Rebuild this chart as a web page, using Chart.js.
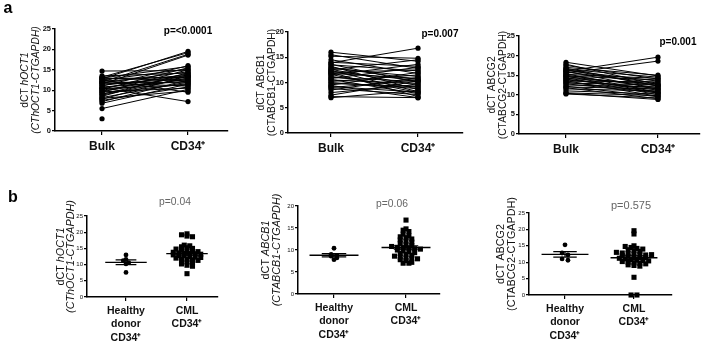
<!DOCTYPE html>
<html><head><meta charset="utf-8">
<script src="https://cdn.jsdelivr.net/npm/chart.js@4"></script>
<style>
html,body{margin:0;padding:0;background:#fff;}
#wrap{position:relative;width:707px;height:341px;overflow:hidden;background:#fff;}
canvas{position:absolute;}
</style></head><body><div id="wrap">
<canvas id="a1"></canvas><canvas id="a2"></canvas><canvas id="a3"></canvas>
<canvas id="b1"></canvas><canvas id="b2"></canvas><canvas id="b3"></canvas>
</div>
<script>
// ---------- DATA ----------
const pairCategories = ['Bulk', 'CD34⁺'];
const groupCategories = [['Healthy', 'donor', 'CD34⁺'], ['CML', 'CD34⁺']];

// panel a: paired Bulk vs CD34+ (dCT values)
const oct1Bulk = [12.8, 13.2, 12.0, 11.5, 11.0, 13.0, 10.2, 12.5, 9.5, 14.7, 11.8, 8.5, 13.5, 10.5, 9.0, 12.2, 7.8, 11.2, 10.0, 12.8, 8.8, 11.5, 9.8, 7.2, 13.0, 10.8, 8.2, 12.0, 9.2, 6.8, 10.4, 11.8, 7.5, 9.6, 5.5, 8.0, 12.5, 10.6, 3.0];
const oct1CD34 = [19.5, 19.2, 18.8, 18.6, 16.0, 15.8, 15.5, 15.2, 15.0, 14.8, 14.5, 14.3, 14.2, 14.0, 13.8, 13.6, 13.5, 13.4, 13.3, 13.2, 13.0, 12.8, 12.7, 12.5, 12.3, 12.2, 12.0, 11.8, 11.6, 11.5, 11.3, 11.0, 10.8, 10.5, 10.2, 9.8, 9.5, 7.2, null];
const abcb1Bulk = [13.9, 15.2, 12.5, 16.0, 11.5, 14.0, 10.8, 15.5, 12.0, 13.5, 9.5, 14.5, 10.2, 12.8, 8.5, 11.8, 13.0, 9.0, 12.2, 7.5, 11.0, 13.6, 10.5, 8.0, 12.6, 9.8, 11.2, 10.0, 13.2, 7.0, 12.4, 9.2, 11.6, 10.6, 8.8, 12.0, 9.4, 7.2];
const abcb1CD34 = [16.8, 14.8, 14.5, 14.2, 13.6, 13.2, 13.0, 12.8, 12.5, 12.3, 12.0, 11.8, 11.5, 11.2, 11.0, 10.8, 10.6, 10.5, 10.4, 10.3, 10.2, 10.0, 9.8, 9.6, 9.4, 9.2, 9.0, 8.8, 8.6, 8.4, 8.2, 8.1, 8.0, 7.8, 7.6, 7.2, 7.0, 7.0];
const abcg2Bulk = [16.0, 15.5, 17.0, 18.3, 16.5, 15.2, 17.5, 14.8, 16.2, 13.5, 15.8, 14.2, 17.8, 13.0, 14.6, 16.8, 12.5, 15.0, 13.8, 12.0, 16.0, 14.0, 11.5, 13.2, 15.4, 12.8, 11.0, 14.4, 10.5, 13.6, 12.2, 10.2, 11.8, 10.4, 14.8, 16.4];
const abcg2CD34 = [19.6, 18.6, 15.0, 14.8, 14.5, 14.2, 14.0, 13.8, 13.5, 13.3, 13.0, 12.8, 12.6, 12.5, 12.4, 12.2, 12.0, 11.8, 11.6, 11.5, 11.4, 11.2, 11.0, 10.8, 10.6, 10.5, 10.2, 10.0, 9.8, 9.6, 9.5, 9.2, 9.0, 8.8, 10.4, 12.3];

// panel b: healthy donor CD34+ vs CML CD34+
const oct1Healthy = [13.0, 11.6, 11.2, 10.6, 10.2, 7.6];
const oct1CML = [19.5, 19.2, 18.8, 18.6, 16.0, 15.8, 15.5, 15.2, 15.0, 14.8, 14.5, 14.3, 14.2, 14.0, 13.8, 13.6, 13.5, 13.4, 13.3, 13.2, 13.0, 12.8, 12.7, 12.5, 12.3, 12.2, 12.0, 11.8, 11.6, 11.5, 11.3, 11.0, 10.8, 10.5, 10.2, 9.8, 9.5, 7.2];
const abcb1Healthy = [10.4, 9.0, 8.8, 8.6, 8.2, 7.8];
const abcb1CML = [16.8, 14.8, 14.5, 14.2, 13.6, 13.2, 13.0, 12.8, 12.5, 12.3, 12.0, 11.8, 11.5, 11.2, 11.0, 10.8, 10.6, 10.5, 10.4, 10.3, 10.2, 10.0, 9.8, 9.6, 9.4, 9.2, 9.0, 8.8, 8.6, 8.4, 8.2, 8.1, 8.0, 7.8, 7.6, 7.2, 7.0, 7.0];
const abcg2Healthy = [15.3, 12.8, 12.2, 11.0, 10.6];
const abcg2CML = [19.6, 18.6, 15.0, 14.8, 14.5, 14.2, 14.0, 13.8, 13.5, 13.3, 13.0, 12.8, 12.6, 12.5, 12.4, 12.2, 12.0, 11.8, 11.6, 11.5, 11.4, 11.2, 11.0, 10.8, 10.6, 10.5, 10.2, 10.0, 9.8, 9.6, 9.5, 9.2, 9.0, 8.8, 10.4, 12.3, 5.4, 0, 0];

const yMaxA = [25, 20, 25];
const yMaxB = [25, 20, 25];
const pA = ['p=<0.0001', 'p=0.007', 'p=0.001'];
const pB = ['p=0.04', 'p=0.06', 'p=0.575'];

// ---------- HELPERS ----------
const INK = '#111';
function pairDatasets(bulk, cd34) {
  return bulk.map((b, i) => ({
    data: [{x: 0, y: b}, {x: 1, y: cd34[i]}],
    showLine: true, borderColor: '#000', borderWidth: 1,
    backgroundColor: '#000', pointRadius: 2.6, pointBorderWidth: 0, clip: false
  }));
}
function jitter(values, center, binW, step) {
  const bins = {};
  values.forEach(v => { const k = Math.round(v / binW); (bins[k] = bins[k] || []).push(v); });
  const pts = [];
  Object.values(bins).forEach(arr => arr.forEach((v, j) => pts.push({x: center + (j - (arr.length - 1) / 2) * step, y: v})));
  return pts;
}
function stats(values) {
  const n = values.length, m = values.reduce((a, b) => a + b, 0) / n;
  const sd = Math.sqrt(values.reduce((a, b) => a + (b - m) * (b - m), 0) / (n - 1));
  return {m, sem: sd / Math.sqrt(n)};
}
function groupDatasets(healthy, cml, binW, step) {
  const out = [];
  [healthy, cml].forEach((vals, c) => {
    const {m, sem} = stats(vals);
    out.push({data: [{x: c - 0.34, y: m}, {x: c + 0.34, y: m}], showLine: true, borderColor: '#000', borderWidth: 1.4, pointRadius: 0, clip: false});
    out.push({data: [{x: c - 0.17, y: m + sem}, {x: c + 0.17, y: m + sem}, {x: c, y: null}, {x: c, y: m + sem}, {x: c, y: m - sem}, {x: c, y: null}, {x: c - 0.17, y: m - sem}, {x: c + 0.17, y: m - sem}],
      showLine: true, spanGaps: false, borderColor: '#000', borderWidth: 1.2, pointRadius: 0, clip: false});
    out.push({data: jitter(vals, c, binW, step), showLine: false, backgroundColor: '#000', borderWidth: 0,
      pointStyle: c === 0 ? 'circle' : 'rect', pointRadius: c === 0 ? 2.4 : 3.6, clip: false});
  });
  return out;
}

function buildChart(cfg) {
  const {id, box, area, xRange, yMax, datasets, xLabels, xFont, xPad, yFont, title, titleX, titleFont, pText, letter} = cfg;
  const cv = document.getElementById(id);
  cv.width = box.w; cv.height = box.h;
  cv.style.left = box.x + 'px'; cv.style.top = box.y + 'px';
  const textPlugin = {
    id: 'panelText_' + id,
    afterDraw(chart) {
      const ctx = chart.ctx, ca = chart.chartArea;
      ctx.save();
      ctx.fillStyle = INK;
      ctx.textBaseline = 'middle';
      const cy = (ca.top + ca.bottom) / 2;
      title.forEach((line, li) => {
        ctx.save();
        ctx.translate(titleX[li] - box.x, cy);
        ctx.rotate(-Math.PI / 2);
        let total = 0;
        line.forEach(([t, it]) => { ctx.font = (it ? 'italic ' : '') + titleFont; total += ctx.measureText(t).width; });
        let x = -total / 2;
        ctx.textAlign = 'left';
        line.forEach(([t, it]) => { ctx.font = (it ? 'italic ' : '') + titleFont; ctx.fillText(t, x, 0); x += ctx.measureText(t).width; });
        ctx.restore();
      });
      ctx.textAlign = 'center';
      ctx.font = pText.font; ctx.fillStyle = pText.color;
      ctx.fillText(pText.text, pText.x - box.x, pText.y - box.y);
      if (letter) {
        ctx.font = 'bold 16px "Liberation Sans", Arial, sans-serif'; ctx.fillStyle = '#000';
        ctx.fillText(letter.text, letter.x - box.x, letter.y - box.y);
      }
      ctx.restore();
    }
  };
  return new Chart(cv, {
    type: 'scatter',
    data: {datasets},
    options: {
      responsive: false, animation: false, devicePixelRatio: 1,
      layout: {padding: {top: area.t - box.y, right: box.x + box.w - area.r, left: 0, bottom: 0}},
      plugins: {legend: {display: false}, tooltip: {enabled: false}},
      elements: {line: {tension: 0}},
      scales: {
        x: {
          type: 'linear', min: xRange[0], max: xRange[1],
          afterBuildTicks: s => { s.ticks = xLabels.map((_, i) => ({value: i})); },
          afterFit: s => { s.height = box.y + box.h - area.b; },
          ticks: {callback: v => xLabels[v], font: xFont, color: INK, padding: xPad, maxRotation: 0, autoSkip: false},
          grid: {drawOnChartArea: false, drawTicks: true, tickLength: 4, color: '#000', lineWidth: 1.2},
          border: {color: '#000', width: 1.5}
        },
        y: {
          min: 0, max: yMax,
          afterFit: s => { s.width = area.l - box.x; },
          ticks: {stepSize: 5, font: yFont, color: INK, padding: 1},
          grid: {drawOnChartArea: false, drawTicks: true, tickLength: 3, color: '#000', lineWidth: 1.2},
          border: {color: '#000', width: 1.5}
        }
      }
    },
    plugins: [textPlugin]
  });
}

const FAM = '"Liberation Sans", Arial, sans-serif';
const aX = {size: 12, weight: 'bold', family: FAM};
const aY = {size: 7.5, weight: 'bold', family: FAM};
const bX = {size: 10.5, weight: 'bold', family: FAM, lineHeight: 1.3};
const bY = {size: 6, family: FAM};
const aT = '10.3px ' + FAM;
const bT = '10.8px ' + FAM;
const pAFont = 'bold 10px ' + FAM;
const pBFont = '10.3px ' + FAM;

// ---------- PANELS ----------
buildChart({id: 'a1', box: {x: 0, y: 0, w: 235, h: 170}, area: {l: 55, r: 228, t: 29, b: 131},
  xRange: [-0.547, 1.465], yMax: yMaxA[0], datasets: pairDatasets(oct1Bulk, oct1CD34),
  xLabels: pairCategories, xFont: aX, xPad: 4, yFont: aY,
  title: [[['dCT ', false], ['hOCT1', true]], [['(CThOCT1-CTGAPDH)', true]]], titleX: [25, 36], titleFont: aT,
  pText: {text: pA[0], x: 188, y: 31, font: pAFont, color: '#000'}, letter: {text: 'a', x: 8, y: 9}});

buildChart({id: 'a2', box: {x: 235, y: 0, w: 235, h: 170}, area: {l: 288, r: 463, t: 32, b: 133},
  xRange: [-0.494, 1.517], yMax: yMaxA[1], datasets: pairDatasets(abcb1Bulk, abcb1CD34),
  xLabels: pairCategories, xFont: aX, xPad: 4, yFont: aY,
  title: [[['dCT ABCB1', false]], [['(CTABCB1-CTGAPDH)', false]]], titleX: [261, 272], titleFont: aT,
  pText: {text: pA[1], x: 440, y: 34, font: pAFont, color: '#000'}});

buildChart({id: 'a3', box: {x: 470, y: 0, w: 237, h: 170}, area: {l: 519, r: 700, t: 36, b: 134},
  xRange: [-0.511, 1.457], yMax: yMaxA[2], datasets: pairDatasets(abcg2Bulk, abcg2CD34),
  xLabels: pairCategories, xFont: aX, xPad: 4, yFont: aY,
  title: [[['dCT ABCG2', false]], [['(CTABCG2-CTGAPDH)', false]]], titleX: [492, 503], titleFont: aT,
  pText: {text: pA[2], x: 678, y: 42, font: pAFont, color: '#000'}});

buildChart({id: 'b1', box: {x: 0, y: 170, w: 235, h: 171}, area: {l: 87, r: 218, t: 216, b: 297},
  xRange: [-0.639, 1.508], yMax: yMaxB[0], datasets: groupDatasets(oct1Healthy, oct1CML, 0.9, 0.09),
  xLabels: groupCategories, xFont: bX, xPad: 3, yFont: bY,
  title: [[['dCT ', false], ['hOCT1', true]], [['(CThOCT1-CTGAPDH)', true]]], titleX: [61, 71], titleFont: bT,
  pText: {text: pB[0], x: 175, y: 202, font: pBFont, color: '#666'}, letter: {text: 'b', x: 13, y: 198}});

buildChart({id: 'b2', box: {x: 235, y: 170, w: 235, h: 171}, area: {l: 298, r: 440, t: 206, b: 294},
  xRange: [-0.5, 1.472], yMax: yMaxB[1], datasets: groupDatasets(abcb1Healthy, abcb1CML, 0.75, 0.08),
  xLabels: groupCategories, xFont: bX, xPad: 3, yFont: bY,
  title: [[['dCT ', false], ['ABCB1', true]], [['(CTABCB1-CTGAPDH)', true]]], titleX: [266, 277], titleFont: bT,
  pText: {text: pB[1], x: 392, y: 204, font: pBFont, color: '#666'}});

buildChart({id: 'b3', box: {x: 470, y: 170, w: 237, h: 171}, area: {l: 529, r: 672, t: 213, b: 295},
  xRange: [-0.522, 1.551], yMax: yMaxB[2], datasets: groupDatasets(abcg2Healthy, abcg2CML, 0.9, 0.085),
  xLabels: groupCategories, xFont: bX, xPad: 3, yFont: bY,
  title: [[['dCT ABCG2', false]], [['(CTABCG2-CTGAPDH)', false]]], titleX: [501, 512], titleFont: bT,
  pText: {text: pB[2], x: 631, y: 206, font: '11px ' + FAM, color: '#666'}});
</script>
</body></html>
